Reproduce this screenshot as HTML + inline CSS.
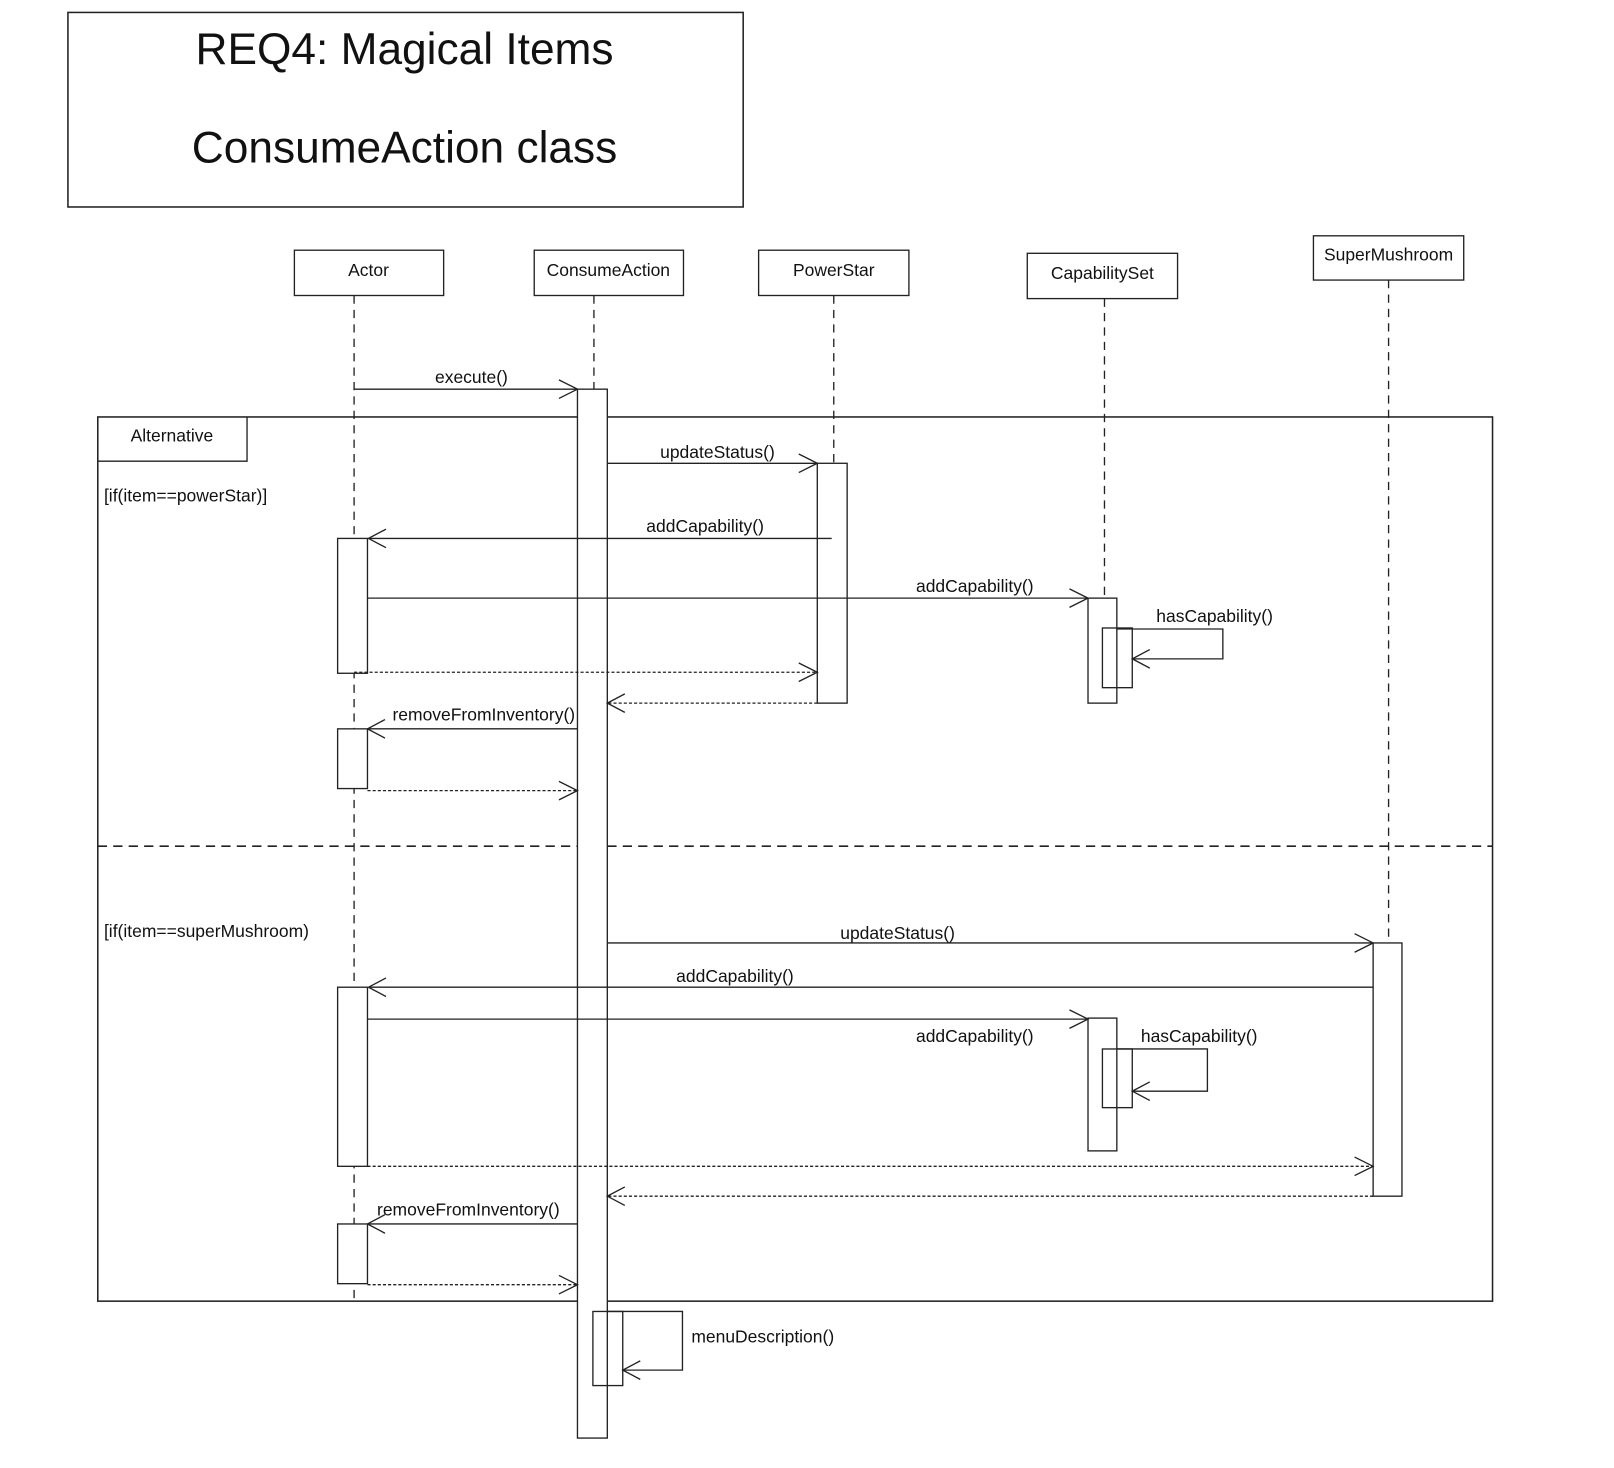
<!DOCTYPE html>
<html><head><meta charset="utf-8"><style>
html,body{margin:0;padding:0;background:#fff;}
svg{display:block;}
text{font-family:"Liberation Sans",Arial,sans-serif;fill:#111;}
</style></head><body>
<svg width="1614" height="1468" viewBox="0 0 1568 1426" xmlns="http://www.w3.org/2000/svg">
<g fill="none" stroke="#222" stroke-width="1.3">
<rect x="66" y="12" width="656" height="189" stroke-width="1.5"/>
<rect x="286" y="243" width="145" height="44"/>
<rect x="519" y="243" width="145" height="44"/>
<rect x="737" y="243" width="146" height="44"/>
<rect x="998" y="246" width="146" height="44"/>
<rect x="1276" y="229" width="146" height="43"/>
<g stroke-dasharray="8,6">
<line x1="344" y1="287" x2="344" y2="1262"/>
<line x1="577" y1="287" x2="577" y2="378"/>
<line x1="810" y1="287" x2="810" y2="450"/>
<line x1="1073" y1="290" x2="1073" y2="581"/>
<line x1="1349" y1="272" x2="1349" y2="916"/>
</g>
<rect x="95" y="405" width="1355" height="859" stroke-width="1.5"/>
<path d="M95 448 H240 V405"/>
<line x1="95" y1="822" x2="1450" y2="822" stroke-dasharray="9,6" stroke-width="1.5"/>
</g>
<g fill="#fff" stroke="#222" stroke-width="1.3">
<rect x="561" y="378" width="29" height="1019"/>
<rect x="794" y="450" width="29" height="233"/>
<rect x="328" y="523" width="29" height="131"/>
<rect x="1057" y="581" width="28" height="102"/>
<rect x="328" y="708" width="29" height="58"/>
<rect x="1334" y="916" width="28" height="246"/>
<rect x="328" y="959" width="29" height="174"/>
<rect x="1057" y="989" width="28" height="129"/>
<rect x="328" y="1189" width="29" height="58"/>
</g>
<g fill="none" stroke="#222" stroke-width="1.3">
<rect x="1071" y="610" width="29" height="58"/>
<rect x="1071" y="1019" width="29" height="57"/>
<rect x="576" y="1274" width="29" height="72"/>
<line x1="344" y1="378" x2="561" y2="378"/><path d="M543 369 L561 378 L543 387"/>
<line x1="590" y1="450" x2="794" y2="450"/><path d="M776 441 L794 450 L776 459"/>
<line x1="808" y1="523" x2="358" y2="523"/><path d="M375 514 L358 523 L375 532"/>
<line x1="357" y1="581" x2="1057" y2="581"/><path d="M1039 572 L1057 581 L1039 590"/>
<path d="M1085 611 H1188 V640 H1100"/><path d="M1117 631 L1100 640 L1117 649"/>
<line x1="344" y1="653" x2="794" y2="653" stroke-dasharray="3,2"/><path d="M776 644 L794 653 L776 662"/>
<line x1="794" y1="683" x2="590" y2="683" stroke-dasharray="3,2"/><path d="M607 674 L590 683 L607 692"/>
<line x1="561" y1="708" x2="357" y2="708"/><path d="M374 699 L357 708 L374 717"/>
<line x1="357" y1="768" x2="561" y2="768" stroke-dasharray="3,2"/><path d="M543 759 L561 768 L543 777"/>
<line x1="590" y1="916" x2="1334" y2="916"/><path d="M1316 907 L1334 916 L1316 925"/>
<line x1="1334" y1="959" x2="358" y2="959"/><path d="M375 950 L358 959 L375 968"/>
<line x1="357" y1="990" x2="1057" y2="990"/><path d="M1039 981 L1057 990 L1039 999"/>
<path d="M1085 1019 H1173 V1060 H1100"/><path d="M1117 1051 L1100 1060 L1117 1069"/>
<line x1="357" y1="1133" x2="1334" y2="1133" stroke-dasharray="3,2"/><path d="M1316 1124 L1334 1133 L1316 1142"/>
<line x1="1334" y1="1162" x2="590" y2="1162" stroke-dasharray="3,2"/><path d="M607 1153 L590 1162 L607 1171"/>
<line x1="561" y1="1189" x2="357" y2="1189"/><path d="M374 1180 L357 1189 L374 1198"/>
<line x1="357" y1="1248" x2="561" y2="1248" stroke-dasharray="3,2"/><path d="M543 1239 L561 1248 L543 1257"/>
<path d="M590 1274 H663 V1331 H605"/><path d="M622 1322 L605 1331 L622 1340"/>
</g>
<g font-size="43" text-anchor="middle">
<text x="393" y="62">REQ4: Magical Items</text>
<text x="393" y="158">ConsumeAction class</text>
</g>
<g font-size="17" text-anchor="middle">
<text x="358" y="268">Actor</text>
<text x="591" y="268">ConsumeAction</text>
<text x="810" y="268">PowerStar</text>
<text x="1071" y="271">CapabilitySet</text>
<text x="1349" y="253">SuperMushroom</text>
<text x="167" y="429">Alternative</text>
<text x="458" y="372">execute()</text>
<text x="697" y="445">updateStatus()</text>
<text x="685" y="517">addCapability()</text>
<text x="947" y="575">addCapability()</text>
<text x="1180" y="604">hasCapability()</text>
<text x="470" y="700">removeFromInventory()</text>
<text x="872" y="912">updateStatus()</text>
<text x="714" y="954">addCapability()</text>
<text x="947" y="1012">addCapability()</text>
<text x="1165" y="1012">hasCapability()</text>
<text x="455" y="1181">removeFromInventory()</text>
<text x="741" y="1304">menuDescription()</text>
</g>
<g font-size="17">
<text x="101" y="487">[if(item==powerStar)]</text>
<text x="101" y="910">[if(item==superMushroom)</text>
</g>
</svg>
</body></html>
